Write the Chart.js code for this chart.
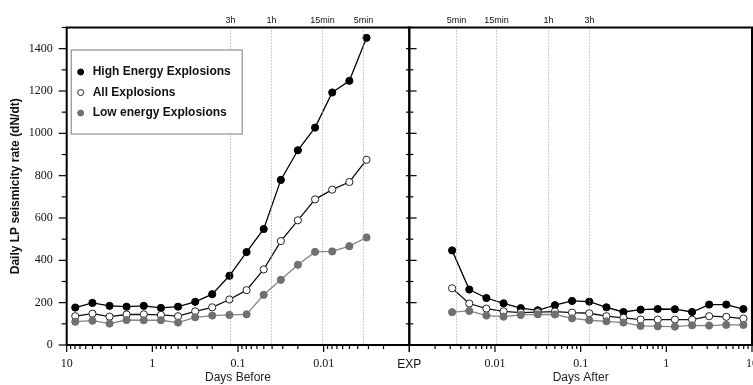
<!DOCTYPE html>
<html>
<head>
<meta charset="utf-8">
<script src="https://cdn.jsdelivr.net/npm/chart.js@4.4.1/dist/chart.umd.min.js"></script>
<style>
  html, body { margin: 0; padding: 0; background: #fff; }
  #wrap { position: relative; width: 753px; height: 385px; overflow: hidden; }
  canvas { position: absolute; left: 0; top: 0; }
</style>
</head>
<body>
<div id="wrap">
  <canvas id="beforeChart" width="753" height="385"></canvas>
  <canvas id="afterChart" width="800" height="385"></canvas>
</div>
<script>
// time of each point (days before / after the explosion)
const daysBefore = [7.94, 5.01, 3.16, 2.0, 1.26, 0.794, 0.501, 0.316, 0.2, 0.126,
                    0.0794, 0.0501, 0.0316, 0.02, 0.0126, 0.00794, 0.00501, 0.00316];
const daysAfter = [0.00316, 0.00501, 0.00794, 0.0126, 0.02, 0.0316, 0.0501, 0.0794, 0.126,
                   0.2, 0.316, 0.501, 0.794, 1.26, 2.0, 3.16, 5.01, 7.94];

// daily LP seismicity rate
const highBefore = [177, 199, 185, 181, 185, 175, 181, 204, 240, 327, 439, 548, 780, 920, 1027, 1193, 1248, 1451];
const allBefore  = [136, 148, 134, 144, 145, 142, 136, 159, 178, 215, 259, 357, 491, 589, 688, 734, 770, 875];
const lowBefore  = [110, 115, 101, 118, 117, 117, 106, 131, 139, 142, 145, 237, 308, 379, 440, 442, 467, 508];

const highAfter = [447, 262, 222, 197, 174, 164, 188, 208, 205, 178, 156, 167, 170, 169, 156, 191, 191, 170];
const allAfter  = [268, 196, 172, 159, 153, 155, 158, 153, 150, 136, 128, 120, 120, 120, 120, 136, 133, 125];
const lowAfter  = [155, 161, 139, 134, 142, 145, 144, 126, 117, 112, 106, 90, 88, 87, 93, 92, 95, 95];

const seriesNames = ["High Energy Explosions", "All Explosions", "Low energy Explosions"];
const decadeLabels = ["EXP", "0.01", "0.1", "1", "10"]; // 0.001 .. 10
const markerDays = [0.125, 1 / 24, 1 / 96, 1 / 288];
const markerLabels = ["3h", "1h", "15min", "5min"];

const SERIF = "'Liberation Serif', 'Times New Roman', serif";
const SANS = "'Liberation Sans', Arial, sans-serif";

const styles = [
  { borderColor: "#000", backgroundColor: "#000", pointBorderColor: "#000" },
  { borderColor: "#111", backgroundColor: "#fff", pointBorderColor: "#222" },
  { borderColor: "#858585", backgroundColor: "#707070", pointBorderColor: "#707070" }
];

function makeSets(xs, lists) {
  return lists.map((vals, i) => ({
    label: seriesNames[i],
    data: vals.map((v, k) => ({ x: xs[k], y: v })),
    borderColor: styles[i].borderColor,
    backgroundColor: styles[i].backgroundColor,
    pointBackgroundColor: styles[i].backgroundColor,
    pointBorderColor: styles[i].pointBorderColor,
    pointBorderWidth: 1,
    pointRadius: 3.6,
    borderWidth: 1.3,
    tension: 0,
    order: 2 - i
  }));
}

function decadeText(v, showExp) {
  const l = Math.log10(v);
  if (Math.abs(l - Math.round(l)) > 1e-6) return "";
  const txt = decadeLabels[Math.round(l) + 3];
  if (txt === "EXP" && !showExp) return "";
  return txt;
}

// frame, tick marks, dotted time markers
const frameTicks = {
  id: "frameTicks",
  afterDraw(chart, args, opts) {
    const { ctx, chartArea: a, scales: { x, y } } = chart;
    ctx.save();
    // dotted time markers
    ctx.strokeStyle = "#9a9a9a";
    ctx.lineWidth = 1;
    ctx.setLineDash([1, 2]);
    ctx.fillStyle = "#111";
    ctx.font = "9px " + SANS;
    ctx.textAlign = "center";
    ctx.textBaseline = "middle";
    markerDays.forEach((d, i) => {
      const px = Math.round(x.getPixelForValue(d)) + 0.5;
      ctx.beginPath();
      ctx.moveTo(px, a.top);
      ctx.lineTo(px, a.bottom);
      ctx.stroke();
      ctx.fillText(markerLabels[i], px, 20.5);
    });
    ctx.setLineDash([]);

    // y ticks
    ctx.strokeStyle = "#000";
    ctx.lineWidth = 1.2;
    for (let v = y.min; v <= y.max; v += 100) {
      const py = y.getPixelForValue(v);
      const major = v % 200 === 0;
      ctx.beginPath();
      if (opts.side === "left") {
        ctx.moveTo(a.left - (major ? 8 : 5), py);
        ctx.lineTo(a.left, py);
      } else {
        ctx.moveTo(a.left - 3.3, py);
        ctx.lineTo(a.left + (major ? 7.3 : 4), py);
      }
      ctx.stroke();
    }

    // log x ticks
    for (let e = -3; e <= 1; e++) {
      for (let m = 1; m <= 9; m++) {
        const v = m * Math.pow(10, e);
        if (v > x.max * 1.0001) break;
        const px = x.getPixelForValue(v);
        ctx.beginPath();
        ctx.moveTo(px, a.bottom);
        ctx.lineTo(px, a.bottom + (m === 1 ? 7 : 4));
        ctx.stroke();
      }
    }

    // frame
    ctx.lineWidth = 2;
    ctx.strokeRect(a.left, a.top, a.right - a.left, a.bottom - a.top);
    ctx.restore();
  }
};

// boxed legend inside the left panel
const boxLegend = {
  id: "boxLegend",
  afterDraw(chart, args, opts) {
    if (!opts.show) return;
    const { ctx, chartArea: a } = chart;
    const bx = a.left + 4, by = a.top + 22, bw = 171, bh = 84;
    ctx.save();
    ctx.fillStyle = "#fff";
    ctx.fillRect(bx, by, bw, bh);
    ctx.strokeStyle = "#7a7a7a";
    ctx.lineWidth = 1;
    ctx.strokeRect(bx + 0.5, by + 0.5, bw, bh);
    ctx.font = "bold 12px " + SANS;
    ctx.textBaseline = "middle";
    ctx.textAlign = "left";
    chart.data.datasets.forEach((ds, i) => {
      const cy = by + 22.5 + i * 20.5;
      ctx.beginPath();
      ctx.arc(bx + 10, cy, 3, 0, Math.PI * 2);
      ctx.fillStyle = ds.pointBackgroundColor;
      ctx.fill();
      ctx.lineWidth = 1;
      ctx.strokeStyle = ds.pointBorderColor;
      ctx.stroke();
      ctx.fillStyle = "#111";
      ctx.fillText(ds.label, bx + 22, cy);
    });
    ctx.restore();
  }
};

function xAxis(reverse, showExp, title) {
  return {
    type: "logarithmic",
    reverse: reverse,
    min: 0.001,
    max: 10,
    grid: { display: false, drawTicks: false },
    border: { display: false },
    ticks: {
      autoSkip: false,
      maxRotation: 0,
      padding: 12,
      color: "#111",
      font: (c) => (c.tick && c.tick.label === "EXP")
        ? { family: SANS, size: 12 }
        : { family: SERIF, size: 12 },
      callback: (v) => decadeText(v, showExp)
    },
    title: {
      display: true,
      text: title,
      color: "#222",
      font: { family: SANS, size: 12 },
      padding: { top: 0, bottom: 0 }
    },
    afterFit: (s) => { s.height = 40; s.paddingLeft = 0; s.paddingRight = 0; }
  };
}

function yAxis(left) {
  return {
    min: 0,
    max: 1500,
    grid: { display: false, drawTicks: false },
    border: { display: false },
    ticks: {
      display: left,
      stepSize: 100,
      padding: 14,
      color: "#111",
      font: { family: SERIF, size: 12 },
      callback: (v) => (v % 200 === 0 ? String(v) : "")
    },
    title: {
      display: left,
      text: "Daily LP seismicity rate (dN/dt)",
      color: "#111",
      font: { family: SANS, size: 12, weight: "bold" },
      padding: { top: 8, bottom: 0 }
    },
    afterFit: (s) => { s.width = left ? 66.7 : 0; s.paddingTop = 0; s.paddingBottom = 0; }
  };
}

function buildChart(id, xs, lists, left) {
  return new Chart(document.getElementById(id), {
    type: "line",
    data: { datasets: makeSets(xs, lists) },
    options: {
      responsive: false,
      animation: false,
      devicePixelRatio: 1,
      layout: {
        // right canvas is 800 wide, clipped at 753 so the last "10" is cut like the original
        padding: left
          ? { left: 0, right: 343.7, top: 27.5, bottom: 0 }
          : { left: 409.3, right: 48, top: 27.5, bottom: 0 }
      },
      scales: {
        x: xAxis(left, left, left ? "Days Before" : "Days After"),
        y: yAxis(left)
      },
      plugins: {
        legend: { display: false },
        tooltip: { enabled: false },
        frameTicks: { side: left ? "left" : "right" },
        boxLegend: { show: left }
      }
    },
    plugins: [frameTicks, boxLegend]
  });
}

const beforeChart = buildChart("beforeChart", daysBefore, [highBefore, allBefore, lowBefore], true);
const afterChart = buildChart("afterChart", daysAfter, [highAfter, allAfter, lowAfter], false);
</script>
</body>
</html>
